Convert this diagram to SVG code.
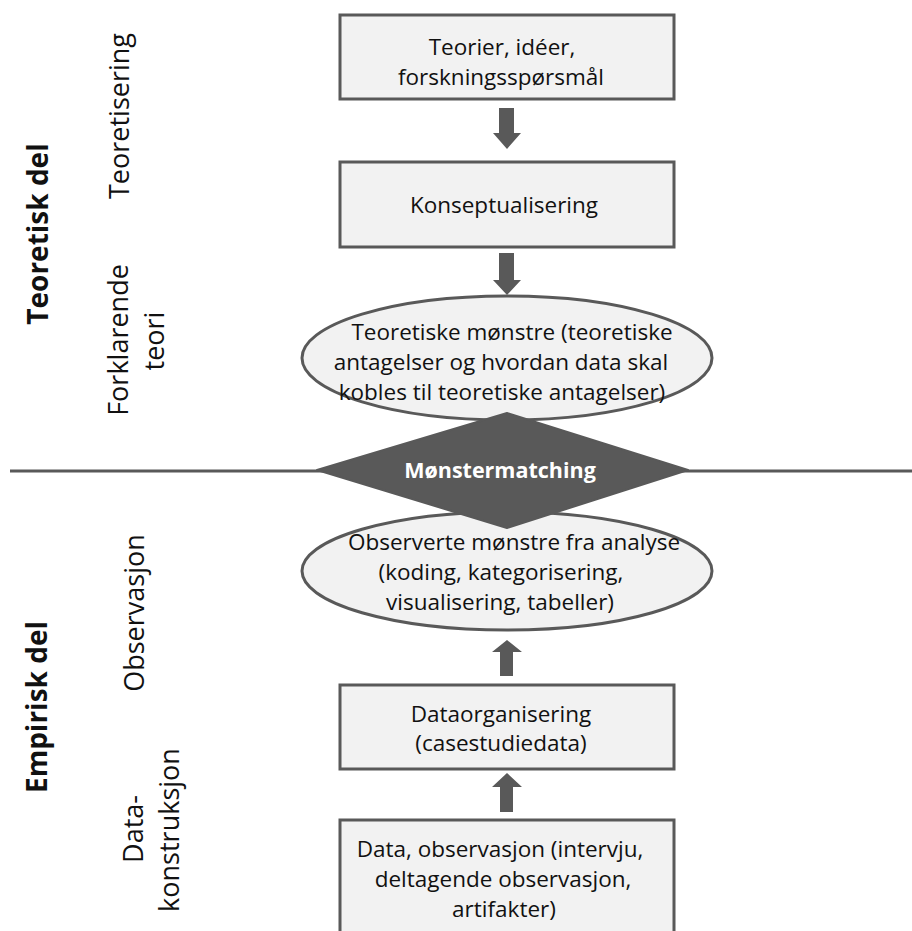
<svg xmlns="http://www.w3.org/2000/svg" width="912" height="931" viewBox="0 0 912 931">
  <style>
    .box { fill: #f2f2f2; stroke: #595959; stroke-width: 3; }
    .oval { fill: #f2f2f2; stroke: #595959; stroke-width: 3; }
    .arrow { fill: #595959; }
    .t { font-family: "Open Sans", "Noto Sans", "Liberation Sans", sans-serif; font-size: 22.5px; fill: #111; text-anchor: middle; }
    .side { font-family: "Open Sans", "Noto Sans", "Liberation Sans", sans-serif; font-size: 27px; fill: #111; text-anchor: middle; }
    .part { font-family: "Open Sans", "Noto Sans", "Liberation Sans", sans-serif; font-size: 28px; font-weight: bold; fill: #111; text-anchor: middle; }
    .match { font-family: "Open Sans", "Noto Sans", "Liberation Sans", sans-serif; font-size: 21.5px; font-weight: bold; fill: #ffffff; text-anchor: middle; }
  </style>
  <rect width="912" height="931" fill="#ffffff"/>

  <!-- divider between theoretical and empirical part -->
  <line x1="10" y1="471" x2="912" y2="471" stroke="#595959" stroke-width="3"/>

  <!-- side labels -->
  <g id="labels">
    <text class="part" transform="translate(48,234) rotate(-90)">Teoretisk del</text>
    <text class="side" transform="translate(129,116) rotate(-90)">Teoretisering</text>
    <text class="side" transform="translate(128,340) rotate(-90)">Forklarende</text>
    <text class="side" transform="translate(164,341) rotate(-90)">teori</text>
    <text class="part" transform="translate(47,707) rotate(-90)">Empirisk del</text>
    <text class="side" transform="translate(144,613) rotate(-90)">Observasjon</text>
    <text class="side" transform="translate(143,829) rotate(-90)">Data-</text>
    <text class="side" transform="translate(179,830) rotate(-90)">konstruksjon</text>
  </g>

  <g id="connectors">
    <polygon class="arrow" points="499,108 514,108 514,133 521,133 507,149 493,133 499,133"/>
    <polygon class="arrow" points="499,253 514,253 514,280 521,280 507,295 493,280 499,280"/>
    <polygon class="arrow" points="507,640 522,652 513,652 513,676 500,676 500,652 492,652"/>
    <polygon class="arrow" points="507,773 522,787 513,787 513,812 500,812 500,787 492,787"/>
  </g>

  <g id="theories">
    <rect class="box" x="340" y="15" width="334" height="84"/>
    <text class="t" x="502" y="55">Teorier, idéer,</text>
    <text class="t" x="501" y="85">forskningsspørsmål</text>
  </g>

  <g id="conceptualisation">
    <rect class="box" x="340" y="162" width="334" height="85"/>
    <text class="t" x="504" y="213">Konseptualisering</text>
  </g>

  <g id="theoretical-patterns">
    <ellipse class="oval" cx="507" cy="358" rx="205" ry="62"/>
    <text class="t" x="512" y="340">Teoretiske mønstre (teoretiske</text>
    <text class="t" x="501" y="370">antagelser og hvordan data skal</text>
    <text class="t" x="502" y="400">kobles til teoretiske antagelser)</text>
  </g>

  <g id="observed-patterns">
    <ellipse class="oval" cx="507" cy="571" rx="205" ry="59"/>
    <text class="t" x="514" y="550">Observerte mønstre fra analyse</text>
    <text class="t" x="501" y="580">(koding, kategorisering,</text>
    <text class="t" x="500" y="610">visualisering, tabeller)</text>
  </g>

  <g id="pattern-matching">
    <polygon points="507,413 688,470 507,528 317,470" fill="#595959" stroke="#595959" stroke-width="2" stroke-linejoin="round"/>
    <text class="match" x="500" y="478">Mønstermatching</text>
  </g>

  <g id="data-organisation">
    <rect class="box" x="340" y="685" width="334" height="84"/>
    <text class="t" x="501" y="722">Dataorganisering</text>
    <text class="t" x="501" y="751">(casestudiedata)</text>
  </g>

  <g id="data-observation">
    <rect class="box" x="340" y="820" width="334" height="130"/>
    <text class="t" x="500" y="857">Data, observasjon (intervju,</text>
    <text class="t" x="503" y="887">deltagende observasjon,</text>
    <text class="t" x="504" y="917">artifakter)</text>
  </g>
</svg>
